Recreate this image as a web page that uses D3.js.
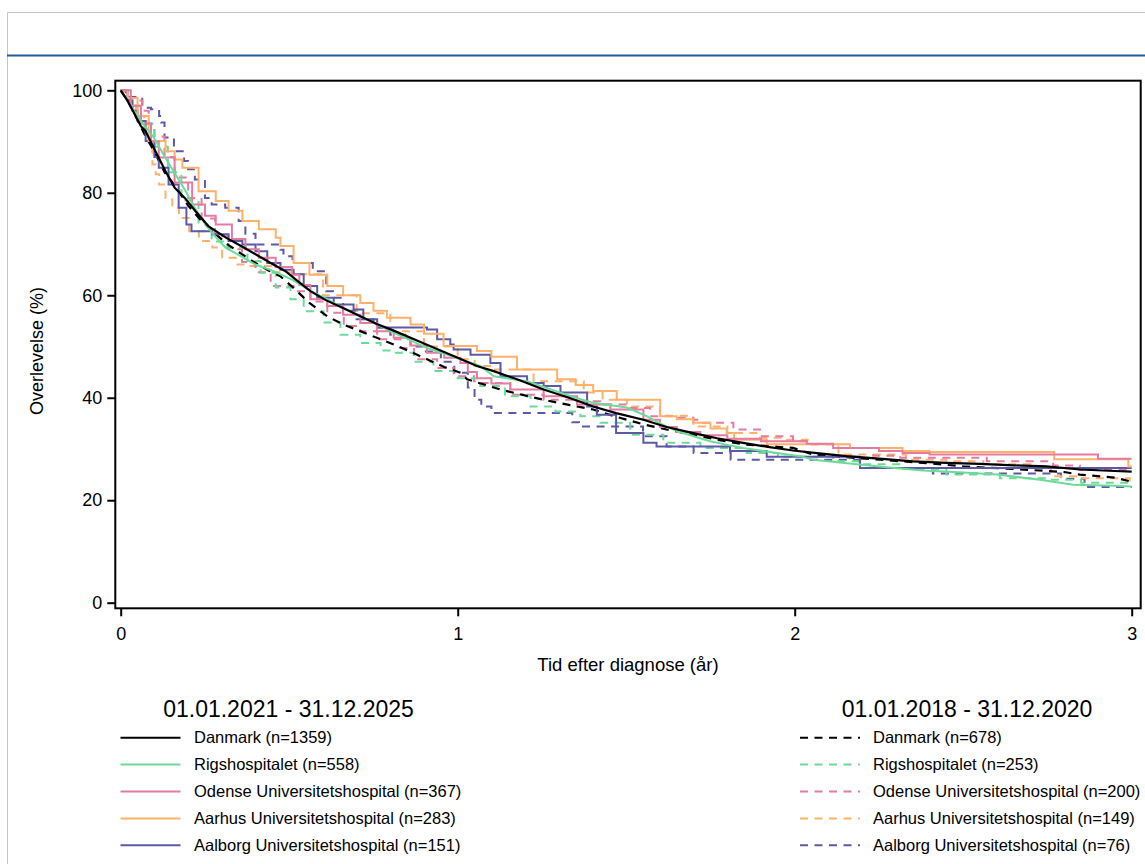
<!DOCTYPE html>
<html lang="da">
<head>
<meta charset="utf-8">
<script src="https://cdn.jsdelivr.net/npm/d3@7"></script>
<style>
  html, body { margin: 0; padding: 0; background: #fff; }
  svg { display: block; font-family: "Liberation Sans", Arial, sans-serif; }
</style>
</head>
<body>
<svg id="chart" width="1145" height="864"></svg>
<script>
// Kaplan-Meier overlevelse, [tid i år, overlevelse %]
const danmark2125 = [[0,100],[0.02,98],[0.04,95.5],[0.06,93],[0.074,92],[0.1,88.5],[0.133,84.2],[0.16,81],[0.19,79],[0.222,76.4],[0.26,73.5],[0.311,71.3],[0.36,69.5],[0.4,68],[0.445,66.3],[0.489,64.7],[0.53,62.5],[0.563,60.8],[0.61,59],[0.66,57.5],[0.711,55.9],[0.76,54.4],[0.81,53.1],[0.86,51.7],[0.9,50.6],[0.949,49.2],[1.0,47.8],[1.057,46.2],[1.107,45.2],[1.18,43.5],[1.255,41.6],[1.33,40],[1.402,38.3],[1.47,37],[1.551,35.7],[1.62,34.3],[1.699,33.1],[1.77,32.1],[1.847,31.2],[1.92,30.4],[1.995,29.7],[2.08,29.1],[2.154,28.6],[2.25,28.1],[2.351,27.6],[2.45,27.3],[2.55,27.1],[2.65,26.8],[2.747,26.6],[2.846,26.0],[2.95,25.7],[3,25.6]];
const rigs2125 = [[0,100],[0.03,97],[0.06,94],[0.098,90.8],[0.14,86],[0.193,80.3],[0.22,77],[0.252,73.8],[0.28,71.5],[0.311,69.3],[0.36,67.5],[0.4,66],[0.45,64.8],[0.51,63],[0.56,61],[0.613,59.2],[0.66,57.5],[0.711,55.9],[0.76,54.3],[0.81,52.7],[0.86,51.2],[0.909,49.7],[0.96,48.6],[1.008,47.5],[1.067,46.2],[1.107,44.2],[1.206,43.2],[1.305,41],[1.35,40],[1.402,39],[1.502,38.1],[1.561,36.4],[1.6,35],[1.65,33.5],[1.7,32.5],[1.749,31.5],[1.8,30.8],[1.847,30.2],[1.947,29.2],[2.016,28.6],[2.055,27.9],[2.184,27],[2.28,26.4],[2.381,25.8],[2.5,25.4],[2.6,25.0],[2.728,24.0],[2.826,23.0],[2.95,22.8],[3,22.7]];
const odense2125 = [[0,100],[0.03,97],[0.06,93.5],[0.09,90],[0.113,86.9],[0.16,82],[0.212,77.7],[0.25,75.5],[0.282,73.8],[0.33,71],[0.37,69],[0.41,67.3],[0.46,65.5],[0.509,64],[0.53,62],[0.563,59.2],[0.613,57.9],[0.66,56.2],[0.711,54.6],[0.76,53],[0.81,51.7],[0.86,50.2],[0.909,48.8],[0.96,47.8],[1.008,46.8],[1.03,45],[1.057,43.8],[1.1,42.8],[1.156,41.6],[1.255,40.3],[1.354,38.7],[1.453,37.7],[1.551,35.7],[1.6,34.3],[1.65,33.3],[1.72,32.7],[1.8,32.0],[1.9,31.5],[2.036,31.0],[2.114,30.2],[2.25,29.6],[2.32,29.2],[2.4,28.9],[2.9,28.1],[3,28.1]];
const aarhus2125 = [[0,100],[0.02,98.5],[0.05,95],[0.083,90.1],[0.133,88.1],[0.16,86.5],[0.183,84.9],[0.231,80.3],[0.282,78.4],[0.32,76.5],[0.361,74.5],[0.41,72.9],[0.46,71.2],[0.474,69.6],[0.513,66.3],[0.56,64],[0.613,61.8],[0.66,60],[0.711,58.5],[0.75,57],[0.79,55.6],[0.86,54.3],[0.9,52.5],[0.958,50.1],[1.057,49.1],[1.1,48],[1.176,45.5],[1.295,43.6],[1.35,42.5],[1.402,41.3],[1.472,39.6],[1.601,36.4],[1.65,35.8],[1.699,35.1],[1.75,34],[1.798,33.1],[1.82,31.8],[1.917,30.9],[2.164,30.2],[2.32,29.6],[2.4,29.4],[2.77,28.0],[2.99,26.6],[3,26.6]];
const aalborg2125 = [[0,100],[0.02,98],[0.035,96],[0.05,94],[0.074,90.1],[0.1,87],[0.113,84.9],[0.142,81.6],[0.172,77.1],[0.195,73.8],[0.21,72.5],[0.272,71.9],[0.32,70.6],[0.361,69.9],[0.4,68.6],[0.435,66.3],[0.474,65],[0.513,64.1],[0.543,61.8],[0.583,59.5],[0.632,58.2],[0.691,57.2],[0.72,55.3],[0.761,53.7],[0.909,53.3],[0.939,51.4],[0.978,50.4],[0.988,49.4],[1.038,48.4],[1.097,46.8],[1.127,44.2],[1.206,42.9],[1.255,42.3],[1.305,41],[1.384,38.3],[1.413,36.7],[1.47,33.1],[1.551,31.2],[1.59,30.5],[1.808,29.6],[1.917,28.5],[2.194,26.3],[3,26.3]];

const danmark1820 = [[0,100],[0.02,98],[0.04,95.5],[0.07,91.5],[0.1,88],[0.13,84],[0.163,81.2],[0.2,77.5],[0.24,74.5],[0.28,72],[0.32,69.8],[0.36,68],[0.4,66.3],[0.44,64.8],[0.474,63.7],[0.52,61],[0.56,58.5],[0.613,55.9],[0.66,54.3],[0.711,53],[0.76,51.7],[0.81,50.4],[0.86,49],[0.909,47.5],[0.96,46],[1.008,44.9],[1.028,43.6],[1.127,41.6],[1.19,40.6],[1.255,39.6],[1.33,38.6],[1.402,37.7],[1.47,36.3],[1.551,34.8],[1.62,33.8],[1.699,32.8],[1.77,31.8],[1.847,30.9],[1.995,30.2],[2.055,28.9],[2.15,28.4],[2.253,27.9],[2.4,27.2],[2.5,26.6],[2.65,26.1],[2.8,25.5],[2.846,25],[2.95,24.4],[3,23.6]];
const rigs1820 = [[0,100],[0.03,97],[0.06,93.5],[0.1,89],[0.14,84],[0.18,78.5],[0.231,72.5],[0.27,70.5],[0.316,69.3],[0.376,66.7],[0.415,64.4],[0.46,61.5],[0.504,59.2],[0.543,56.9],[0.602,54.7],[0.652,52.3],[0.711,50.7],[0.771,49.2],[0.81,48.8],[0.87,47],[0.928,45.2],[1.0,43.8],[1.067,42.3],[1.14,40.3],[1.216,38.3],[1.29,37.3],[1.364,36.4],[1.423,35.1],[1.512,32.8],[1.61,31.2],[1.72,30.2],[1.858,29.2],[1.95,28.5],[2.114,27.6],[2.2,27],[2.313,26.1],[2.45,25],[2.609,24.3],[2.75,24],[2.85,23.4],[3,22.8]];
const odense1820 = [[0,100],[0.02,98],[0.064,96],[0.083,93.4],[0.1,91],[0.13,87],[0.16,83],[0.2,79],[0.24,75],[0.28,71.5],[0.32,69],[0.36,66.5],[0.4,64.5],[0.445,61.8],[0.513,60.8],[0.563,58.8],[0.613,56.6],[0.662,54],[0.711,53],[0.761,51.4],[0.83,49.7],[0.87,47.5],[0.939,45.8],[0.988,44.2],[1.048,43.2],[1.067,42.9],[1.156,40.6],[1.255,39.6],[1.354,39.3],[1.423,38.7],[1.502,38.0],[1.571,36.4],[1.65,36.1],[1.699,35.7],[1.72,35.1],[1.818,33.8],[1.897,32.5],[1.995,31.5],[2.036,30.9],[2.114,30.2],[2.233,28.7],[2.313,28.3],[2.57,27.6],[2.767,26.8],[2.846,25.9],[3,25.9]];
const aarhus1820 = [[0,100],[0.02,98],[0.045,95],[0.07,91],[0.083,89.8],[0.094,85.5],[0.104,83.6],[0.114,81.6],[0.133,79],[0.153,77.1],[0.173,75.1],[0.203,72.5],[0.232,70.6],[0.272,69.3],[0.301,67.3],[0.341,66],[0.38,65.7],[0.45,64.5],[0.514,64.1],[0.6,60],[0.7,56.5],[0.8,53],[0.9,50],[1.0,47.5],[1.05,46.2],[1.1,45.5],[1.225,43.2],[1.374,41],[1.43,39.6],[1.502,38.3],[1.6,36.5],[1.699,34.4],[1.8,33.1],[1.897,32.2],[1.966,31.8],[2.05,30.9],[2.13,28.9],[2.33,27.9],[2.45,27.6],[2.56,27.0],[2.7,26.3],[2.76,24.7],[2.85,24.3],[2.994,23.0],[3,23.0]];
const aalborg1820 = [[0,100],[0.015,98.7],[0.064,96.6],[0.09,96.3],[0.114,95],[0.12,93.7],[0.13,90.8],[0.158,88.1],[0.188,86.2],[0.2,84.6],[0.22,82.6],[0.25,79],[0.27,77.7],[0.31,77.1],[0.35,74.5],[0.37,72],[0.4,69.9],[0.474,68.9],[0.483,67.6],[0.51,66.3],[0.57,64.7],[0.61,60.8],[0.63,59.5],[0.66,57],[0.7,55.3],[0.75,53.7],[0.8,52.3],[0.86,50],[0.9,49],[0.95,47],[0.99,44.9],[1.03,42],[1.05,39.6],[1.07,38.3],[1.1,37.0],[1.34,35.2],[1.36,34.4],[1.52,34.4],[1.55,32.5],[1.62,30.5],[1.7,29.2],[1.81,27.9],[2.19,26.3],[2.41,25.2],[2.79,24.2],[2.86,22.6],[3,22.6]];

const hospitals = ["Danmark", "Rigshospitalet", "Odense Universitetshospital", "Aarhus Universitetshospital", "Aalborg Universitetshospital"];
const colors = ["#000000", "#6ddb98", "#e67ba2", "#ffb16a", "#5d59a7"];
const n2125 = [1359, 558, 367, 283, 151];
const n1820 = [678, 253, 200, 149, 76];
const period2125 = "01.01.2021 - 31.12.2025";
const period1820 = "01.01.2018 - 31.12.2020";
const yTicks = [0, 20, 40, 60, 80, 100];
const xTicks = [0, 1, 2, 3];

const curves2125 = [danmark2125, rigs2125, odense2125, aarhus2125, aalborg2125];
const curves1820 = [danmark1820, rigs1820, odense1820, aarhus1820, aalborg1820];

const svg = d3.select("#chart");

// page frame and header rule
svg.append("path").attr("d", "M7.5,864 V12.5 H1145").attr("fill", "none").attr("stroke", "#c6c6c6").attr("stroke-width", 1);
svg.append("line").attr("x1", 7).attr("x2", 1145).attr("y1", 55.5).attr("y2", 55.5).attr("stroke", "#245c9c").attr("stroke-width", 2);

const x = d3.scaleLinear().domain([0, 3]).range([120.7, 1131.7]);
const y = d3.scaleLinear().domain([0, 100]).range([602.7, 90.3]);

const box = { left: 115.3, top: 80.7, right: 1140.7, bottom: 608.3 };

const DASH = "8,6.5";

function lineFor(n) {
  // large groups have so many events the step function reads as a smooth path
  return d3.line().x(d => x(d[0])).y(d => y(d[1]))
    .curve(n >= 500 ? d3.curveLinear : d3.curveStepAfter);
}

const plot = svg.append("g");

// earlier period (dashed), coloured first then Danmark
for (let i = hospitals.length - 1; i >= 0; i--) {
  plot.append("path").datum(curves1820[i])
    .attr("d", lineFor(n1820[i]))
    .attr("fill", "none")
    .attr("stroke", colors[i])
    .attr("stroke-width", i === 0 ? 2.2 : 2)
    .attr("stroke-dasharray", DASH);
}
// current period (solid)
for (let i = hospitals.length - 1; i >= 0; i--) {
  plot.append("path").datum(curves2125[i])
    .attr("d", lineFor(n2125[i]))
    .attr("fill", "none")
    .attr("stroke", colors[i])
    .attr("stroke-width", i === 0 ? 2.2 : 2)
    .attr("stroke-linejoin", "miter");
}

// plot border
svg.append("rect")
  .attr("x", box.left).attr("y", box.top)
  .attr("width", box.right - box.left).attr("height", box.bottom - box.top)
  .attr("fill", "none").attr("stroke", "#000").attr("stroke-width", 2);

// axes
const yAxis = svg.append("g").attr("transform", `translate(${box.left},0)`)
  .call(d3.axisLeft(y).tickValues(yTicks).tickSize(8).tickPadding(5).tickFormat(d3.format("d")));
const xAxis = svg.append("g").attr("transform", `translate(0,${box.bottom})`)
  .call(d3.axisBottom(x).tickValues(xTicks).tickSize(8).tickPadding(11).tickFormat(d3.format("d")));
[yAxis, xAxis].forEach(a => {
  a.select(".domain").remove();
  a.selectAll(".tick line").attr("stroke", "#000").attr("stroke-width", 2);
  a.selectAll(".tick text").attr("fill", "#000").attr("font-size", 18)
    .attr("font-family", "'Liberation Sans', Arial, sans-serif");
});

svg.append("text")
  .attr("transform", "translate(43,351) rotate(-90)")
  .attr("text-anchor", "middle")
  .attr("font-size", 18)
  .text("Overlevelse (%)");

svg.append("text")
  .attr("x", 628).attr("y", 671)
  .attr("text-anchor", "middle")
  .attr("font-size", 18.5)
  .text("Tid efter diagnose (år)");

// legends
function legend(title, cx, lineX, textX, ns, dashed) {
  const g = svg.append("g");
  g.append("text").attr("x", cx).attr("y", 717)
    .attr("text-anchor", "middle").attr("font-size", 23).text(title);
  hospitals.forEach((h, i) => {
    const ly = 737.7 + i * 26.9;
    g.append("line")
      .attr("x1", lineX).attr("x2", lineX + 60)
      .attr("y1", ly).attr("y2", ly)
      .attr("stroke", colors[i]).attr("stroke-width", 2)
      .attr("stroke-dasharray", dashed ? DASH : null);
    g.append("text").attr("x", textX).attr("y", ly + 5.6)
      .attr("font-size", 16.5).text(`${h} (n=${ns[i]})`);
  });
}
legend(period2125, 288.5, 120.5, 194, n2125, false);
legend(period1820, 967, 800, 873, n1820, true);
</script>
</body>
</html>
